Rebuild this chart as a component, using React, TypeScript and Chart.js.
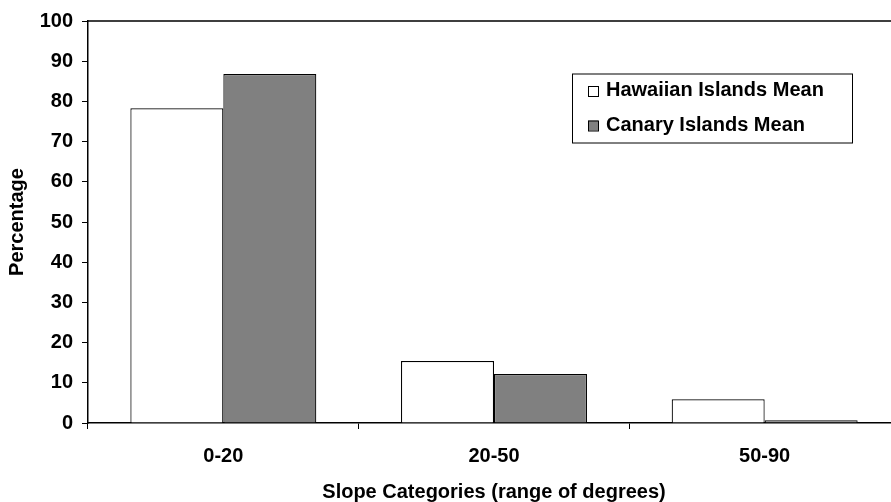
import React, { useEffect, useRef } from "react";
import { Chart, registerables } from "chart.js";

Chart.register(...registerables);

const categories = ["0-20", "20-50", "50-90"];
const hawaiianMean = [78.3, 15.4, 5.9];
const canaryMean = [86.8, 12.2, 0.7];
const seriesNames = ["Hawaiian Islands Mean", "Canary Islands Mean"];
const seriesFills = ["#ffffff", "#808080"];
const yMin = 0;
const yMax = 100;
const yStep = 10;
const xTitle = "Slope Categories (range of degrees)";
const yTitle = "Percentage";

const FONT = '"Liberation Sans", Arial, Helvetica, sans-serif';

const plotBorder = {
  id: "plotBorder",
  afterDraw(chart: any) {
    const { ctx, chartArea } = chart;
    ctx.save();
    ctx.strokeStyle = "#000";
    ctx.lineWidth = 1.5;
    ctx.beginPath();
    ctx.moveTo(chartArea.left, chartArea.top);
    ctx.lineTo(chartArea.right, chartArea.top);
    ctx.lineTo(chartArea.right, chartArea.bottom);
    ctx.stroke();
    ctx.restore();
  },
};

const legendBox = {
  id: "legendBox",
  afterDraw(chart: any) {
    const { ctx } = chart;
    const boxX = 572;
    const boxY = 73.5;
    const boxW = 280;
    const boxH = 69;
    ctx.save();
    ctx.fillStyle = "#fff";
    ctx.fillRect(boxX, boxY, boxW, boxH);
    ctx.strokeStyle = "#000";
    ctx.lineWidth = 1;
    ctx.strokeRect(boxX + 0.5, boxY + 0.5, boxW, boxH);
    ctx.font = `bold 20px ${FONT}`;
    ctx.textBaseline = "alphabetic";
    ctx.textAlign = "left";
    chart.data.datasets.forEach((ds: any, i: number) => {
      const baseY = 96 + i * 34.5;
      ctx.fillStyle = ds.backgroundColor;
      ctx.fillRect(588, baseY - 10, 10, 10);
      ctx.strokeStyle = "#000";
      ctx.lineWidth = 1;
      ctx.strokeRect(588.5, baseY - 9.5, 10, 10);
      ctx.fillStyle = "#000";
      ctx.fillText(ds.label, 606, baseY);
    });
    ctx.restore();
  },
};

function App() {
  const ref = useRef<HTMLCanvasElement | null>(null);

  useEffect(() => {
    if (!ref.current) return;
    const chart = new Chart(ref.current, {
      type: "bar",
      data: {
        labels: categories,
        datasets: [
          {
            label: seriesNames[0],
            data: hawaiianMean,
            backgroundColor: seriesFills[0],
            borderColor: "#000",
            borderWidth: 1.2,
            categoryPercentage: 0.687,
            barPercentage: 1,
          },
          {
            label: seriesNames[1],
            data: canaryMean,
            backgroundColor: seriesFills[1],
            borderColor: "#000",
            borderWidth: 1.2,
            categoryPercentage: 0.687,
            barPercentage: 1,
          },
        ],
      },
      options: {
        animation: false,
        responsive: true,
        maintainAspectRatio: false,
        layout: { padding: { left: 0, right: 1, top: 18, bottom: 0 } },
        plugins: {
          legend: { display: false },
          tooltip: { enabled: false },
        },
        scales: {
          x: {
            grid: {
              display: true,
              drawOnChartArea: false,
              drawTicks: true,
              tickLength: 6,
              tickColor: "#000",
              offset: true,
            },
            border: { display: true, color: "#000", width: 1.5 },
            ticks: {
              color: "#000",
              font: { family: FONT, size: 20, weight: "bold" },
              padding: 15,
            },
            title: {
              display: true,
              text: xTitle,
              color: "#000",
              font: { family: FONT, size: 20, weight: "bold", lineHeight: 1 },
              padding: 0,
            },
            afterFit(scale: any) {
              scale.height = 79;
            },
          },
          y: {
            min: yMin,
            max: yMax,
            grid: {
              display: true,
              drawOnChartArea: false,
              drawTicks: true,
              tickLength: 6,
              tickColor: "#000",
            },
            border: { display: true, color: "#000", width: 1.5 },
            ticks: {
              stepSize: yStep,
              color: "#000",
              font: { family: FONT, size: 20, weight: "bold" },
              padding: 9,
            },
            title: {
              display: true,
              text: yTitle,
              color: "#000",
              font: { family: FONT, size: 20, weight: "bold", lineHeight: 1 },
              padding: { top: 7, bottom: 0 },
            },
            afterFit(scale: any) {
              scale.width = 88;
            },
          },
        },
      },
      plugins: [plotBorder, legendBox],
    });
    return () => chart.destroy();
  }, []);

  return (
    <div
      style={{
        position: "fixed",
        left: 0,
        top: 0,
        width: 891,
        height: 502,
        overflow: "hidden",
        background: "#fff",
      }}
    >
      <div style={{ position: "relative", width: 901, height: 502 }}>
        <canvas ref={ref} />
      </div>
    </div>
  );
}

export default App;
